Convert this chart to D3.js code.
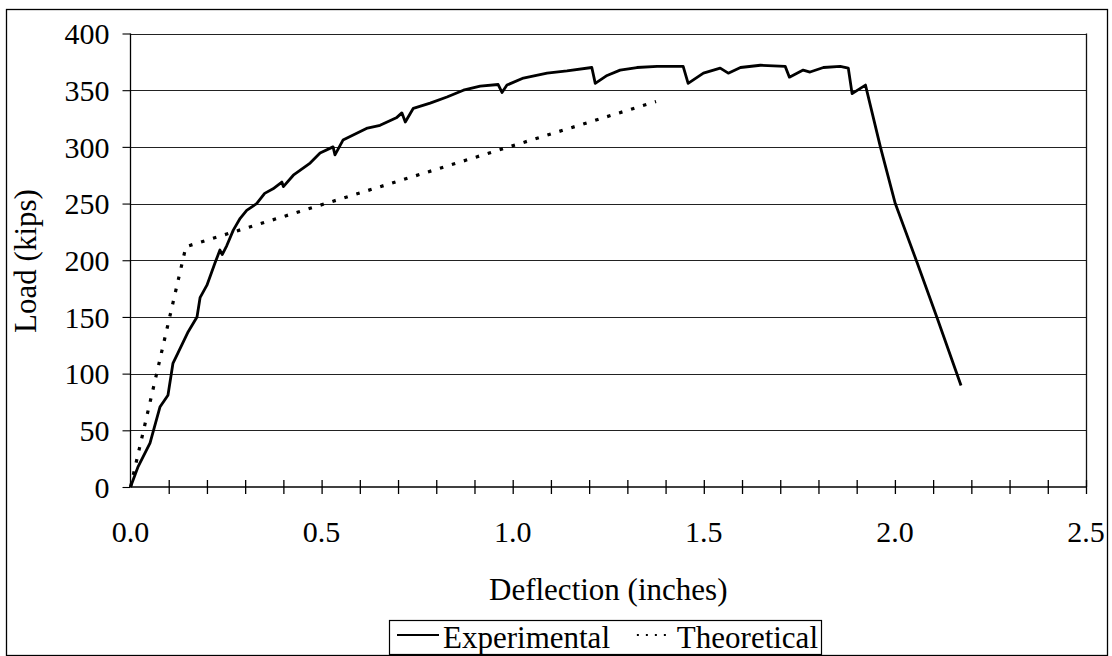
<!DOCTYPE html>
<html><head><meta charset="utf-8">
<script src="https://cdn.jsdelivr.net/npm/d3@7/dist/d3.min.js"></script>
<style>
html,body{margin:0;padding:0;background:#fff;}
svg text{font-family:"Liberation Serif","Times New Roman",serif;fill:#000;}
</style></head>
<body><svg id="chart" width="1112" height="656"></svg>
<script>
// ---- data ----
const expDeflection = [0,0.02,0.051,0.077,0.098,0.111,0.124,0.151,0.174,0.182,0.200,0.221,0.234,0.240,0.252,0.269,0.287,0.304,0.330,0.351,0.373,0.396,0.400,0.426,0.470,0.496,0.530,0.535,0.556,0.620,0.653,0.697,0.710,0.719,0.740,0.784,0.828,0.871,0.915,0.962,0.972,0.985,1.028,1.090,1.142,1.207,1.216,1.247,1.281,1.325,1.378,1.446,1.459,1.499,1.543,1.564,1.596,1.648,1.713,1.724,1.760,1.778,1.813,1.857,1.878,1.888,1.923,1.962,2.001,2.058,2.111,2.173];
const expLoad       = [0,18,38.8,70.5,81,109,118,137,150,167,178,197.5,209,205,213,226.6,237,244,250,259,263,269,265,275,285.7,294.5,300,293,306,316.6,319,326,330,322,334,338.6,344,350,353.6,355,348,354.5,360.7,365,367,370,356,363,367.7,370,371,371,356,365,369.5,365,370,372,371,361.5,367.7,366,370,371,369.5,347,354.5,300,250,198,148.6,89.5];
const theoDeflection = [0,0.145,1.375];
const theoLoad       = [0,212,340];
const xTicks = [0,0.5,1.0,1.5,2.0,2.5];
const xMinorStep = 0.1;
const yTicks = [0,50,100,150,200,250,300,350,400];
const xTitle = "Deflection (inches)";
const yTitle = "Load (kips)";
const seriesNames = ["Experimental","Theoretical"];

// ---- layout ----
const svg = d3.select("#chart");
const L = 130.5, R = 1086, T = 33.5, B = 487;
const TFS = "30px";   // tick labels
const HFS = "31px";   // titles / legend
const x = d3.scaleLinear().domain([0,2.5]).range([L,R]);
const y = d3.scaleLinear().domain([0,400]).range([B,T]);

// outer border
svg.append("rect").attr("x",6.5).attr("y",9.5).attr("width",1101).attr("height",646)
  .attr("fill","none").attr("stroke","#000").attr("stroke-width",1.3);

// gridlines
svg.append("g").selectAll("line").data(yTicks.filter(v=>v>0)).join("line")
  .attr("x1",L).attr("x2",R).attr("y1",d=>Math.round(y(d))+0.5).attr("y2",d=>Math.round(y(d))+0.5)
  .attr("stroke","#222").attr("stroke-width",1.1);
// right border of plot
svg.append("line").attr("x1",R+0.5).attr("x2",R+0.5).attr("y1",T).attr("y2",B)
  .attr("stroke","#111").attr("stroke-width",1.3);

// y axis
const yAxis = d3.axisLeft(y).tickValues(yTicks).tickFormat(d3.format("d")).tickSize(8).tickPadding(13);
const gy = svg.append("g").attr("transform",`translate(${L},0)`).call(yAxis);
gy.select(".domain").attr("stroke","#000").attr("stroke-width",1.3).attr("d",`M0,${T}V${B}`);
gy.selectAll(".tick line").attr("stroke","#000").attr("stroke-width",1.1);
gy.selectAll("text").attr("font-size",TFS).attr("font-family","Liberation Serif").attr("fill","#000").attr("dy","0.34em");

// x axis (minor cross ticks every 0.1)
const minorTicks = d3.range(0,2.5001,xMinorStep).map(v=>+v.toFixed(2));
const xAxis = d3.axisBottom(x).tickValues(minorTicks).tickSize(7).tickFormat("");
const gx = svg.append("g").attr("transform",`translate(0,${B})`).call(xAxis);
gx.select(".domain").attr("stroke","#000").attr("stroke-width",1.5).attr("d",`M${L},0H${R}`);
gx.selectAll(".tick line").attr("stroke","#000").attr("stroke-width",1.3).attr("y1",-7).attr("y2",7);
gx.selectAll(".tick").filter(d=>d===0).select("line").remove();
svg.append("g").selectAll("text").data(xTicks).join("text")
  .attr("x",d=>x(d)).attr("y",B+55).attr("text-anchor","middle")
  .attr("font-size",TFS).text(d=>d.toFixed(1));

// titles
svg.append("text").attr("x",(L+R)/2).attr("y",600).attr("text-anchor","middle")
  .attr("font-size",HFS).text(xTitle);
svg.append("text").attr("transform","translate(36,261) rotate(-90)").attr("text-anchor","middle")
  .attr("font-size",HFS).text(yTitle);

// series
const line = d3.line().x(d=>x(d[0])).y(d=>y(d[1]));
const theo = theoDeflection.map((d,i)=>[d,theoLoad[i]]);
const exp = expDeflection.map((d,i)=>[d,expLoad[i]]);
svg.append("path").datum(theo).attr("d",line).attr("fill","none")
  .attr("stroke","#000").attr("stroke-width",3.2).attr("stroke-dasharray","3.5,9").attr("stroke-linecap","butt");
svg.append("path").datum(exp).attr("d",line).attr("fill","none")
  .attr("stroke","#000").attr("stroke-width",2.8).attr("stroke-linejoin","round");

// legend
const lg = svg.append("g");
const lx = 389, ly = 620, lw = 432, lh = 34;
lg.append("rect").attr("x",lx+0.5).attr("y",ly+0.5).attr("width",lw).attr("height",lh)
  .attr("fill","#fff").attr("stroke","#000").attr("stroke-width",1.2);
const cy = ly + 15;
lg.append("line").attr("x1",lx+8).attr("x2",lx+50).attr("y1",cy).attr("y2",cy)
  .attr("stroke","#000").attr("stroke-width",2);
const t1 = lg.append("text").attr("x",lx+54).attr("y",ly+28).attr("font-size",HFS).text(seriesNames[0]);
const t2 = lg.append("text").attr("x",lx+lw-3).attr("y",ly+28).attr("font-size",HFS)
  .attr("text-anchor","end").text(seriesNames[1]);
const w2 = t2.node().getComputedTextLength();
const d2 = lx+lw-3-w2-4;
lg.append("line").attr("x1",d2-36).attr("x2",d2).attr("y1",cy).attr("y2",cy)
  .attr("stroke","#000").attr("stroke-width",2).attr("stroke-dasharray","2,7");
</script></body></html>
